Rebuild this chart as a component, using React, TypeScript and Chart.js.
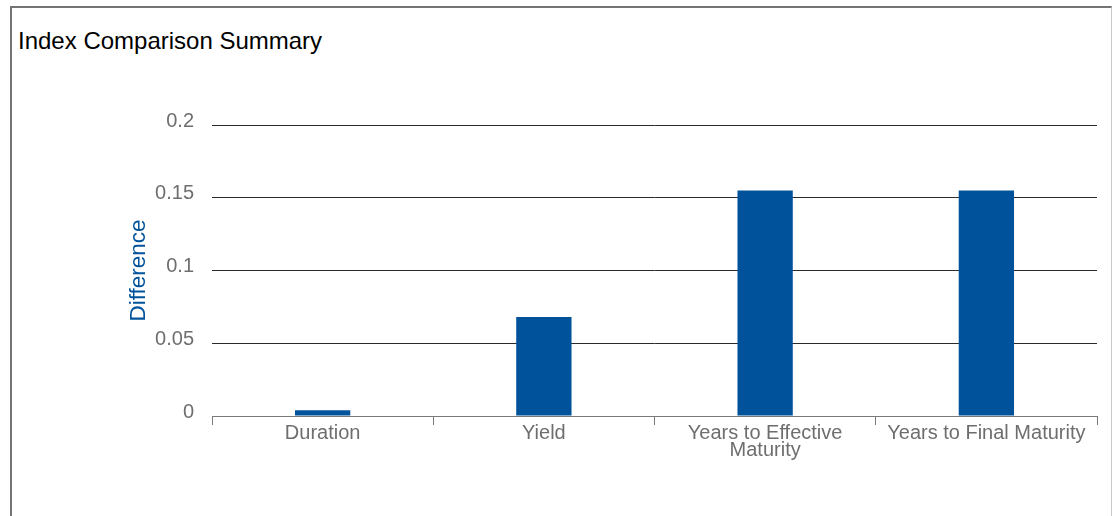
import React, { useEffect, useRef } from "react";
import { Chart, registerables } from "chart.js";

Chart.register(...registerables);

const categories: (string | string[])[] = [
  "Duration",
  "Yield",
  ["Years to Effective", "Maturity"],
  "Years to Final Maturity",
];
const differenceValues: number[] = [0.004, 0.068, 0.155, 0.155];
const yTickValues: number[] = [0, 0.05, 0.1, 0.15, 0.2];

const FONT = "Arial, 'Liberation Sans', Helvetica, sans-serif";
const BAR_BLUE = "#00539B";

export default function App() {
  const canvasRef = useRef<HTMLCanvasElement | null>(null);

  useEffect(() => {
    const canvas = canvasRef.current;
    if (!canvas) return;
    const chart = new Chart(canvas, {
      type: "bar",
      data: {
        labels: categories,
        datasets: [
          {
            label: "Difference",
            data: differenceValues,
            backgroundColor: BAR_BLUE,
            borderWidth: 0,
            categoryPercentage: 1,
            barPercentage: 0.25,
          },
        ],
      },
      options: {
        animation: false,
        responsive: false,
        maintainAspectRatio: false,
        layout: { padding: { left: 121, right: 15, top: 125, bottom: 0 } },
        plugins: {
          legend: { display: false },
          tooltip: { enabled: false },
          title: { display: false },
        },
        scales: {
          x: {
            grid: {
              display: true,
              drawOnChartArea: false,
              drawTicks: true,
              tickLength: 9,
              color: "#7a7a7a",
              lineWidth: 1,
            },
            border: { display: true, color: "#7a7a7a", width: 1 },
            ticks: {
              color: "#6e6e6e",
              font: { family: FONT, size: 20, lineHeight: 0.85 },
              padding: 0,
              maxRotation: 0,
              autoSkip: false,
            },
            afterFit: (scale: any) => {
              scale.height = 100;
            },
          },
          y: {
            min: 0,
            max: 0.2,
            afterBuildTicks: (scale: any) => {
              scale.ticks = yTickValues.map((v) => ({ value: v }));
            },
            grid: {
              drawTicks: false,
              color: (ctx: any) =>
                ctx.tick && ctx.tick.value === 0 ? "rgba(0,0,0,0)" : "#2b2b2b",
              lineWidth: 1,
            },
            border: { display: false },
            ticks: {
              color: "#6e6e6e",
              font: { family: FONT, size: 20 },
              padding: 18,
              labelOffset: -4,
              callback: (v: any) => String(Number(v)),
            },
            title: {
              display: true,
              text: "Difference",
              color: BAR_BLUE,
              font: { family: FONT, size: 22.5 },
              padding: { top: 4, bottom: 4 },
            },
            afterFit: (scale: any) => {
              scale.width = 91;
            },
          },
        },
      },
    });
    return () => chart.destroy();
  }, []);

  return (
    <div style={{ position: "fixed", left: 0, top: 0, width: 1112, height: 516, background: "#fff", overflow: "hidden" }}>
      <div
        style={{
          position: "absolute",
          left: 10,
          top: 6,
          width: 1099,
          height: 530,
          borderTop: "2px solid #747474",
          borderLeft: "2px solid #747474",
          borderRight: "1px solid #c8c8c8",
        }}
      />
      <div
        style={{
          position: "absolute",
          left: 18,
          top: 27,
          fontFamily: FONT,
          fontSize: 24,
          color: "#000",
          whiteSpace: "nowrap",
          lineHeight: "28px",
        }}
      >
        Index Comparison Summary
      </div>
      <canvas
        ref={canvasRef}
        width={1112}
        height={516}
        style={{ position: "absolute", left: 0, top: 0, width: 1112, height: 516 }}
      />
    </div>
  );
}
